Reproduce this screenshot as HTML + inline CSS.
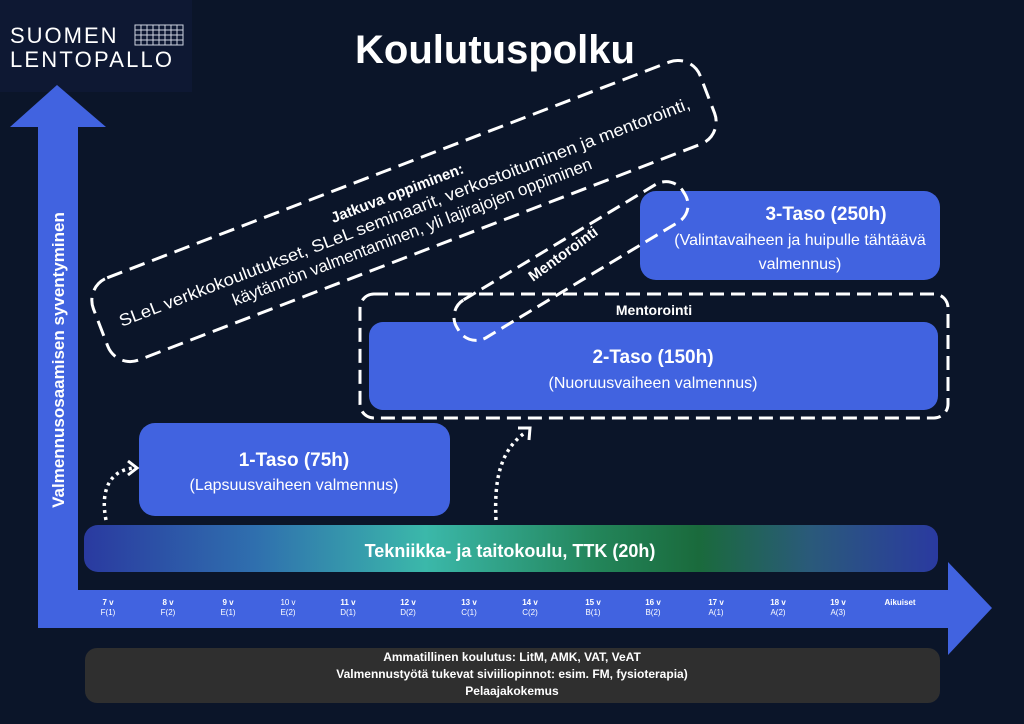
<!DOCTYPE html>
<html><head><meta charset="utf-8"><style>
html,body{margin:0;padding:0;background:#0b1529;}
svg{display:block;font-family:"Liberation Sans",sans-serif;}
</style></head><body>
<svg width="1024" height="724" viewBox="0 0 1024 724" xmlns="http://www.w3.org/2000/svg">
<defs>
<linearGradient id="g" x1="0" x2="1" y1="0" y2="0">
<stop offset="0" stop-color="#2a3aa0"/>
<stop offset="0.2" stop-color="#2f6fae"/>
<stop offset="0.4" stop-color="#3bb8aa"/>
<stop offset="0.6" stop-color="#23855a"/>
<stop offset="0.72" stop-color="#1a6a3c"/>
<stop offset="0.85" stop-color="#2a5a7a"/>
<stop offset="1" stop-color="#2a3aa0"/>
</linearGradient>
</defs>
<rect width="1024" height="724" fill="#0b1529"/>
<rect x="0" y="0" width="192" height="92" fill="#0e1833"/>
<text x="10" y="43" fill="#fff" font-size="22" letter-spacing="2">SUOMEN</text>
<text x="10" y="67" fill="#fff" font-size="22" letter-spacing="2.2">LENTOPALLO</text>
<g stroke="#cfd3e0" stroke-width="1" fill="none">
<rect x="135" y="25" width="48" height="20"/>
<path d="M141 25v20M147 25v20M153 25v20M159 25v20M165 25v20M171 25v20M177 25v20M135 30h48M135 35h48M135 40h48"/>
</g>
<text x="495" y="63" fill="#fff" font-size="40" font-weight="bold" text-anchor="middle">Koulutuspolku</text>
<rect x="38" y="125" width="40" height="503" fill="#4163e0"/>
<polygon points="10,127 106,127 57,85" fill="#4163e0"/>
<rect x="38" y="590" width="912" height="38" fill="#4163e0"/>
<polygon points="948,562 948,655 992,608" fill="#4163e0"/>
<text transform="translate(64,360) rotate(-90)" fill="#fff" font-size="17" font-weight="bold" text-anchor="middle">Valmennusosaamisen syventyminen</text>
<g fill="#fff" font-size="8" text-anchor="middle">
<text x="108" y="605" font-weight="bold">7 v</text><text x="108" y="615">F(1)</text>
<text x="168" y="605" font-weight="bold">8 v</text><text x="168" y="615">F(2)</text>
<text x="228" y="605" font-weight="bold">9 v</text><text x="228" y="615">E(1)</text>
<text x="288" y="605">10 v</text><text x="288" y="615">E(2)</text>
<text x="348" y="605" font-weight="bold">11 v</text><text x="348" y="615">D(1)</text>
<text x="408" y="605" font-weight="bold">12 v</text><text x="408" y="615">D(2)</text>
<text x="469" y="605" font-weight="bold">13 v</text><text x="469" y="615">C(1)</text>
<text x="530" y="605" font-weight="bold">14 v</text><text x="530" y="615">C(2)</text>
<text x="593" y="605" font-weight="bold">15 v</text><text x="593" y="615">B(1)</text>
<text x="653" y="605" font-weight="bold">16 v</text><text x="653" y="615">B(2)</text>
<text x="716" y="605" font-weight="bold">17 v</text><text x="716" y="615">A(1)</text>
<text x="778" y="605" font-weight="bold">18 v</text><text x="778" y="615">A(2)</text>
<text x="838" y="605" font-weight="bold">19 v</text><text x="838" y="615">A(3)</text>
<text x="900" y="605" font-weight="bold">Aikuiset</text>
</g>
<rect x="84" y="525" width="854" height="47" rx="14" fill="url(#g)"/>
<text x="510" y="557" fill="#fff" font-size="18" font-weight="bold" text-anchor="middle">Tekniikka- ja taitokoulu, TTK (20h)</text>
<rect x="85" y="648" width="855" height="55" rx="12" fill="#2f2f2f"/>
<g fill="#fff" font-size="12" font-weight="bold" text-anchor="middle">
<text x="512" y="661">Ammatillinen koulutus: LitM, AMK, VAT, VeAT</text>
<text x="512" y="678">Valmennustyötä tukevat siviiliopinnot: esim. FM, fysioterapia)</text>
<text x="512" y="695">Pelaajakokemus</text>
</g>
<rect x="139" y="423" width="311" height="93" rx="16" fill="#4163e0"/>
<text x="294" y="466" fill="#fff" font-size="19" font-weight="bold" text-anchor="middle">1-Taso (75h)</text>
<text x="294" y="490" fill="#fff" font-size="16" text-anchor="middle">(Lapsuusvaiheen valmennus)</text>
<rect x="360" y="294" width="588" height="124" rx="14" fill="none" stroke="#fff" stroke-width="3" stroke-dasharray="14,7"/>
<text x="654" y="315" fill="#fff" font-size="14" font-weight="bold" text-anchor="middle">Mentorointi</text>
<rect x="369" y="322" width="569" height="88" rx="14" fill="#4163e0"/>
<text x="653" y="363" fill="#fff" font-size="19" font-weight="bold" text-anchor="middle">2-Taso (150h)</text>
<text x="653" y="388" fill="#fff" font-size="16" text-anchor="middle">(Nuoruusvaiheen valmennus)</text>
<rect x="640" y="191" width="300" height="89" rx="16" fill="#4163e0"/>
<text x="826" y="220" fill="#fff" font-size="19" font-weight="bold" text-anchor="middle">3-Taso (250h)</text>
<text x="800" y="245" fill="#fff" font-size="16" text-anchor="middle">(Valintavaiheen ja huipulle tähtäävä</text>
<text x="800" y="269" fill="#fff" font-size="16" text-anchor="middle">valmennus)</text>
<g transform="translate(571,261) rotate(-31)">
<rect x="-132" y="-22" width="264" height="44" rx="20" fill="none" stroke="#fff" stroke-width="3" stroke-dasharray="14,7"/>
</g>
<text transform="translate(566,258) rotate(-36)" fill="#fff" font-size="15" font-weight="bold" text-anchor="middle">Mentorointi</text>
<g transform="translate(404,211) rotate(-21)">
<rect x="-325" y="-44" width="650" height="88" rx="24" fill="none" stroke="#fff" stroke-width="3" stroke-dasharray="16,8"/>
<text x="0" y="-14" fill="#fff" font-size="15" font-weight="bold" text-anchor="middle">Jatkuva oppiminen:</text>
<text x="0" y="7" fill="#fff" font-size="17" text-anchor="middle" textLength="610" lengthAdjust="spacingAndGlyphs">SLeL verkkokoulutukset, SLeL seminaarit, verkostoituminen ja mentorointi,</text>
<text x="0" y="28" fill="#fff" font-size="17" text-anchor="middle">käytännön valmentaminen, yli lajirajojen oppiminen</text>
</g>
<g fill="none" stroke="#fff" stroke-width="3.5" stroke-dasharray="3,4">
<path d="M106 520 C100 490 110 470 134 468"/>
<path d="M496 520 C494 480 500 450 526 432"/>
</g>
<g fill="none" stroke="#fff" stroke-width="3">
<path d="M128 461 L137 468 L128 475"/>
<path d="M518 428 L530 428 L529 440"/>
</g>
</svg>
</body></html>
